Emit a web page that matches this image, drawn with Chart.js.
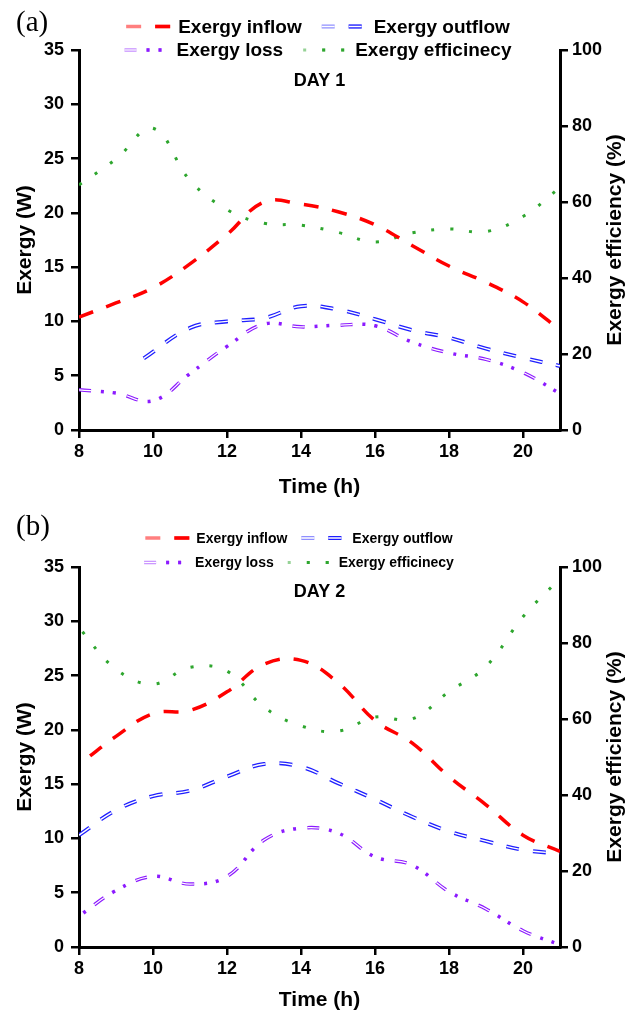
<!DOCTYPE html>
<html>
<head>
<meta charset="utf-8">
<script src="https://cdn.jsdelivr.net/npm/chart.js@4.4.1/dist/chart.umd.min.js"></script>
<style>
  html, body { margin: 0; padding: 0; background: #fff; }
  #wrap { position: relative; width: 635px; height: 1017px; }
  .panel { position: absolute; left: 0; width: 635px; }
  #panelA { top: 0; height: 508px; }
  #panelB { top: 508px; height: 509px; }
</style>
</head>
<body>
<div id="wrap">
  <div class="panel" id="panelA"><canvas id="chartA" width="635" height="508"></canvas></div>
  <div class="panel" id="panelB"><canvas id="chartB" width="635" height="509"></canvas></div>
</div>
<script>
// hourly readings (time of day in h)
const hours = [8, 9, 10, 11, 12, 13, 14, 15, 16, 17, 18, 19, 20, 21];

// Day 1
const inflowDay1       = [10.4, 11.7, 13.1, 15.3, 18.0, 21.0, 20.8, 20.1, 18.9, 17.0, 15.1, 13.6, 11.8, 9.2];
const outflowHoursDay1 = [9.75, 11, 12, 13, 14, 15, 16, 17, 18, 19, 20, 21];
const outflowDay1      = [6.6, 9.4, 10.0, 10.3, 11.4, 11.1, 10.2, 9.2, 8.5, 7.5, 6.65, 5.9];
const lossDay1         = [3.7, 3.4, 2.7, 5.2, 7.7, 9.75, 9.5, 9.65, 9.6, 8.1, 7.1, 6.5, 5.3, 3.35];
const efficiencyDay1   = [64.5, 71.3, 79.4, 65.7, 58.0, 54.4, 53.9, 52.0, 49.5, 51.9, 52.9, 52.2, 56.2, 63.8];

// Day 2
const inflowDay2     = [16.8, 19.4, 21.5, 21.8, 23.5, 26.05, 26.4, 24.35, 20.85, 18.8, 15.7, 13.1, 10.3, 8.8];
const outflowDay2    = [10.3, 12.6, 13.9, 14.4, 15.7, 16.85, 16.6, 15.1, 13.6, 12.0, 10.65, 9.75, 8.95, 8.6];
const lossDay2       = [2.85, 5.2, 6.5, 5.8, 6.5, 9.85, 10.95, 10.5, 8.3, 7.55, 5.1, 3.5, 1.5, 0.2];
const efficiencyDay2 = [84.0, 73.1, 69.2, 73.6, 72.6, 63.1, 58.2, 56.8, 60.5, 60.0, 67.2, 73.8, 86.9, 97.0];

// axis ticks
const timeTicks       = [8, 10, 12, 14, 16, 18, 20];
const exergyTicks     = [0, 5, 10, 15, 20, 25, 30, 35];
const efficiencyTicks = [0, 20, 40, 60, 80, 100];

Chart.defaults.font.family = '"Liberation Sans", Arial, Helvetica, sans-serif';
Chart.defaults.color = '#000';

// line looks: dash patterns, double line ("inner" = white core over the dash)
const seriesStyles = {
    inflow:     { color: '#ff0000', width: 3.5, dash: [15, 14] },
    outflow:    { color: '#1f1fff', width: 4, dash: [13, 14], inner: { width: 1.4, dash: [13, 14] } },
    loss:       { color: '#8c1aff', width: 3.5, dash: [12, 10, 3, 9, 3, 11], inner: { width: 1.2, dash: [12, 36] } },
    efficiency: { color: '#2ea62e', width: 3, dash: [3, 16] }
};

function toPoints(xs, ys) {
    return xs.map((x, i) => ({ x: x, y: ys[i] }));
}

function lineSet(label, data, key, axis, order, dashOffset) {
    const st = seriesStyles[key];
    return {
        label: label,
        data: data,
        yAxisID: axis,
        borderColor: st.color,
        borderWidth: st.width,
        borderDash: st.dash,
        borderDashOffset: dashOffset,
        borderCapStyle: 'butt',
        pointRadius: 0,
        tension: 0.4,
        fill: false,
        order: order,
        seriesStyle: st
    };
}

// white core drawn on top of a line to make it look doubled
function innerSet(data, key, axis, order, dashOffset) {
    const st = seriesStyles[key];
    return {
        label: '',
        data: data,
        yAxisID: axis,
        borderColor: '#ffffff',
        borderWidth: st.inner.width,
        borderDash: st.inner.dash,
        borderDashOffset: dashOffset,
        borderCapStyle: 'butt',
        pointRadius: 0,
        tension: 0.4,
        fill: false,
        order: order,
        overlay: true
    };
}

function drawSample(ctx, x, y, w, st) {
    const stroke = () => { ctx.beginPath(); ctx.moveTo(x, y); ctx.lineTo(x + w, y); ctx.stroke(); };
    ctx.save();
    ctx.lineCap = 'butt';
    ctx.setLineDash(st.dash);
    ctx.lineWidth = st.width;
    ctx.strokeStyle = st.color;
    ctx.globalAlpha = 0.5;
    stroke();
    ctx.globalAlpha = 1;
    ctx.beginPath();
    ctx.rect(x + w * 0.4, y - 10, w, 20);
    ctx.clip();
    stroke();
    ctx.restore();
    if (st.inner) {
        ctx.save();
        ctx.setLineDash(st.inner.dash);
        ctx.lineWidth = st.inner.width;
        ctx.strokeStyle = '#ffffff';
        stroke();
        ctx.restore();
    }
}

// panel letter, day caption, right axis title and the two-row legend
const panelDecor = {
    id: 'panelDecor',
    afterDraw(chart, args, opts) {
        const ctx = chart.ctx;
        const area = chart.chartArea;
        ctx.save();
        ctx.fillStyle = '#000';

        ctx.font = '29px "Liberation Serif", "Times New Roman", serif';
        ctx.textAlign = 'left';
        ctx.textBaseline = 'middle';
        ctx.fillText(opts.letter, 16, opts.letterY);

        ctx.font = 'bold 18px "Liberation Sans", Arial, sans-serif';
        ctx.textAlign = 'center';
        ctx.fillText(opts.day, (area.left + area.right) / 2, opts.dayY);

        ctx.save();
        ctx.translate(opts.rightTitleX, (area.top + area.bottom) / 2);
        ctx.rotate(-Math.PI / 2);
        ctx.font = 'bold 21px "Liberation Sans", Arial, sans-serif';
        ctx.fillText('Exergy efficiency (%)', 0, 0);
        ctx.restore();

        // legend
        const items = chart.data.datasets.filter(ds => !ds.overlay);
        ctx.font = 'bold ' + opts.legendFont + 'px "Liberation Sans", Arial, sans-serif';
        ctx.textAlign = 'left';
        opts.legendY.forEach((rowY, r) => {
            const row = items.slice(r * 2, r * 2 + 2);
            let total = 0;
            row.forEach((ds, i) => {
                total += opts.sampleW + opts.textGap + ctx.measureText(ds.label).width;
                if (i > 0) total += opts.itemGap;
            });
            let x = opts.legendCenter - total / 2;
            row.forEach(ds => {
                drawSample(ctx, x, rowY, opts.sampleW, ds.seriesStyle);
                x += opts.sampleW + opts.textGap;
                ctx.fillStyle = '#000';
                ctx.fillText(ds.label, x, rowY + 1);
                x += ctx.measureText(ds.label).width + opts.itemGap;
            });
        });
        ctx.restore();
    }
};

function fixedTicks(values) {
    return scale => { scale.ticks = values.map(v => ({ value: v })); };
}

const tickFont = { size: 18, weight: 'bold' };
const titleFont = { size: 21, weight: 'bold' };
const axisGrid = { display: true, drawOnChartArea: false, drawTicks: true, tickLength: 8, lineWidth: 2.5, color: '#000' };
const axisBorder = { display: true, color: '#000', width: 3 };

function makeChart(canvasId, datasets, decor, topPad, xHeight, xTitlePad) {
    return new Chart(document.getElementById(canvasId), {
        type: 'line',
        data: { datasets: datasets },
        plugins: [panelDecor],
        options: {
            responsive: false,
            animation: false,
            layout: { padding: { top: topPad, left: 0, right: 0, bottom: 0 } },
            plugins: {
                legend: { display: false },
                tooltip: { enabled: false },
                panelDecor: decor
            },
            scales: {
                x: {
                    type: 'linear',
                    min: 8,
                    max: 21,
                    afterBuildTicks: fixedTicks(timeTicks),
                    afterFit: s => { s.height = xHeight; },
                    grid: axisGrid,
                    border: axisBorder,
                    ticks: { font: tickFont, padding: 3, maxRotation: 0 },
                    title: { display: true, text: 'Time (h)', font: titleFont, padding: { top: 0, bottom: xTitlePad } }
                },
                y: {
                    position: 'left',
                    min: 0,
                    max: 35,
                    afterBuildTicks: fixedTicks(exergyTicks),
                    afterFit: s => { s.width = 79; },
                    grid: axisGrid,
                    border: axisBorder,
                    ticks: { font: tickFont, padding: 7 },
                    title: { display: true, text: 'Exergy (W)', font: titleFont, padding: { top: 13, bottom: 0 } }
                },
                yR: {
                    position: 'right',
                    min: 0,
                    max: 100,
                    afterBuildTicks: fixedTicks(efficiencyTicks),
                    afterFit: s => { s.width = 75; },
                    grid: axisGrid,
                    border: axisBorder,
                    ticks: { font: tickFont, padding: 4 }
                }
            }
        }
    });
}

function dayDatasets(inflow, outflow, loss, efficiency, offsets) {
    return [
        lineSet('Exergy inflow', inflow, 'inflow', 'y', 1, offsets[0]),
        lineSet('Exergy outflow', outflow, 'outflow', 'y', 3, offsets[1]),
        lineSet('Exergy loss', loss, 'loss', 'y', 5, offsets[2]),
        lineSet('Exergy efficinecy', efficiency, 'efficiency', 'yR', 7, offsets[3]),
        innerSet(outflow, 'outflow', 'y', 2, offsets[1]),
        innerSet(loss, 'loss', 'y', 4, offsets[2])
    ];
}

makeChart('chartA',
    dayDatasets(toPoints(hours, inflowDay1), toPoints(outflowHoursDay1, outflowDay1),
                toPoints(hours, lossDay1), toPoints(hours, efficiencyDay1), [0, 0, 0, 0]),
    { letter: '(a)', letterY: 23, day: 'DAY 1', dayY: 81, rightTitleX: 615,
      legendY: [26.5, 50], legendFont: 19, legendCenter: 318, sampleW: 47, textGap: 5, itemGap: 20 },
    50, 78, 8);

makeChart('chartB',
    dayDatasets(toPoints(hours, inflowDay2), toPoints(hours, outflowDay2),
                toPoints(hours, lossDay2), toPoints(hours, efficiencyDay2), [15, 0, 29, 14]),
    { letter: '(b)', letterY: 19, day: 'DAY 2', dayY: 84, rightTitleX: 615,
      legendY: [30, 54.5], legendFont: 14, legendCenter: 299, sampleW: 47, textGap: 4, itemGap: 14 },
    59, 70, 4);
</script>
</body>
</html>
